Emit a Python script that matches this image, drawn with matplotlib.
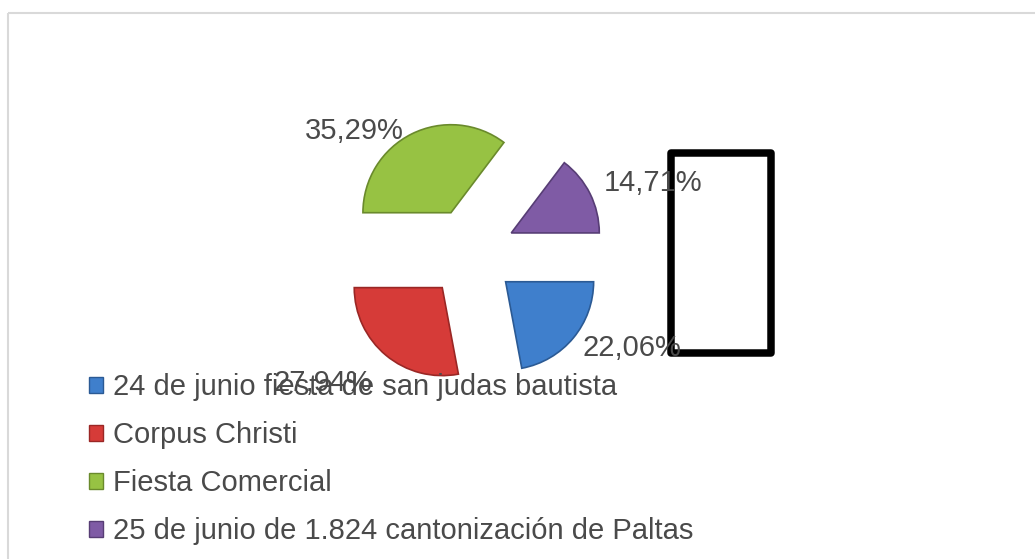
import matplotlib
matplotlib.use("Agg")
import matplotlib.pyplot as plt
from matplotlib.patches import Rectangle, Patch

# datos
categorias = [
    "24 de junio fiesta de san judas bautista",
    "Corpus Christi",
    "Fiesta Comercial",
    "25 de junio de 1.824 cantonización de Paltas",
]
porcentajes = [22.06, 27.94, 35.29, 14.71]
etiquetas = ["22,06%", "27,94%", "35,29%", "14,71%"]

colores = ["#3F7FCC", "#D63B38", "#97C243", "#7F5BA5"]
bordes = ["#2B5A94", "#9A2725", "#6A8A2C", "#573D75"]
TEXTO = "#4A4A4A"

W, H = 1035, 559
fig = plt.figure(figsize=(W / 100, H / 100), dpi=100)
ax = fig.add_axes([0, 0, 1, 1])

# borde gris del área del gráfico (sale por la derecha y abajo)
ax.plot([8, W], [H - 13, H - 13], color="#D9D9D9", lw=1.5, solid_capstyle="butt")
ax.plot([8, 8], [H - 13, 0], color="#D9D9D9", lw=1.5, solid_capstyle="butt")

# explode en unidades de datos (píxeles)
wedges, _ = ax.pie(porcentajes, colors=colores, startangle=0, counterclock=False,
                   explode=[45] * 4, radius=88, center=(471, H - 253),
                   wedgeprops=dict(linewidth=1.2), frame=True)
for w, b in zip(wedges, bordes):
    w.set_edgecolor(b)
ax.set_xlim(0, W)
ax.set_ylim(0, H)
ax.set_aspect("equal")
ax.axis("off")

# rectángulo negro
ax.add_patch(Rectangle((671, H - 353), 100, 200, fill=False, edgecolor="black",
                       lw=5.4, joinstyle="round", zorder=3))

# etiquetas de porcentaje (posición en píxeles de la imagen)
pos_etiquetas = [(632, 348), (323, 383), (354, 131), (653, 183)]
for txt, (x, y) in zip(etiquetas, pos_etiquetas):
    ax.text(x, H - y, txt, ha="center", va="center", fontsize=21,
            color=TEXTO, family="Liberation Sans", zorder=4)

handles = [Patch(facecolor=c, edgecolor=b, lw=1) for c, b in zip(colores, bordes)]
leg = ax.legend(handles, categorias, loc="upper left", bbox_to_anchor=(89 / W, 1 - 373 / H),
                frameon=False, prop={"family": "Liberation Sans", "size": 21},
                handlelength=0.48, handleheight=0.48, handletextpad=0.33,
                labelspacing=0.69, borderpad=0, borderaxespad=0)
for t in leg.get_texts():
    t.set_color(TEXTO)

fig.savefig("out.png", dpi=100)
